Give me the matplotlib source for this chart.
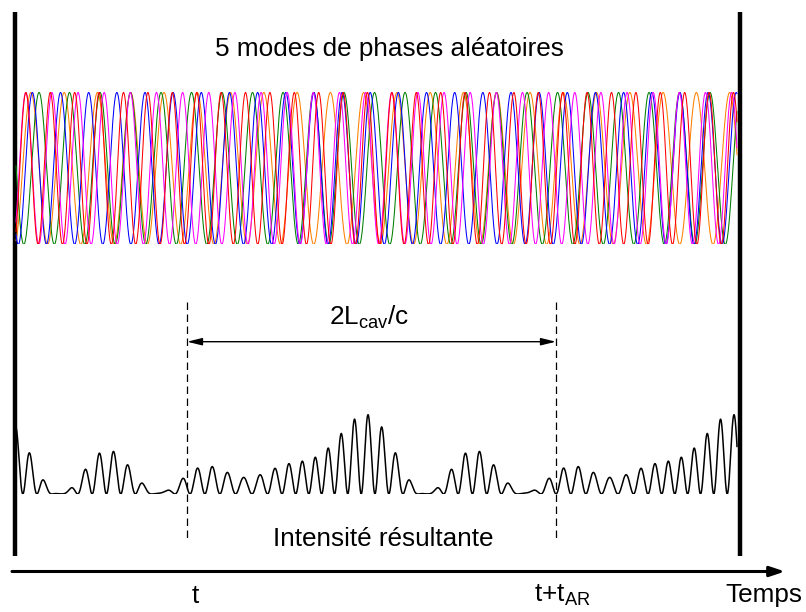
import numpy as np
import matplotlib
matplotlib.use("Agg")
import matplotlib.pyplot as plt

plt.rcParams['font.family'] = ['Liberation Sans', 'DejaVu Sans']
plt.rcParams['mathtext.fontset'] = 'custom'
plt.rcParams['mathtext.rm'] = 'Liberation Sans'
plt.rcParams['mathtext.default'] = 'regular'

# time in units of the cavity round trip 2L/c
mode_orders = [11, 12, 13, 14, 15]
mode_phases = [0.443, 4.524, 5.341, 0.089, 5.898]   # rad
mode_colors = ['#ff8000', '#008000', '#0000ff', '#ff00ff', '#ff0000']
t_start, t_end = 0.0437, 2.0137          # time window shown
t_marks = [0.511, 1.519]                 # t and t + t_AR
x_max = 806 / 366

t = np.linspace(t_start, t_end, 6000)
fields = [np.cos(2 * np.pi * n * t + p) for n, p in zip(mode_orders, mode_phases)]
intensity = np.sum(fields, axis=0) ** 2

fig = plt.figure(figsize=(8.06, 6.12), dpi=100)

# 5 modes
ax_m = fig.add_axes([0, 0.6005, 1, 0.2484])
for f, c in zip(fields, mode_colors):
    ax_m.plot(t, f, color=c, lw=0.75)
ax_m.set_xlim(0, x_max)
ax_m.set_ylim(-1, 1)
ax_m.axis('off')

# resulting intensity
ax_i = fig.add_axes([0, 0.1928, 1, 0.1634])
ax_i.plot(t, intensity, color='black', lw=1.1)
ax_i.set_xlim(0, x_max)
ax_i.set_ylim(0, 16.5)
ax_i.axis('off')

# frame, time axis and labels
ax = fig.add_axes([0, 0, 1, 1], zorder=-1)
ax.set_xlim(0, x_max)
ax.set_ylim(612, 0)
ax.axis('off')

ax.plot([14.5 / 366] * 2, [12, 556], color='black', lw=3.2, solid_capstyle='butt')
ax.plot([739.7 / 366] * 2, [12, 556], color='black', lw=3.2, solid_capstyle='butt')

for tm in t_marks:
    ax.plot([tm, tm], [302, 540], color='black', lw=0.9, linestyle=(0, (6, 3.6)))

ax.annotate('', xy=(t_marks[1], 341.7), xytext=(t_marks[0], 341.7),
            arrowprops=dict(arrowstyle='<|-|>,head_length=0.9,head_width=0.22',
                            color='black', lw=1.0, shrinkA=0, shrinkB=0))
ax.annotate('', xy=(785 / 366, 571.5), xytext=(12 / 366, 571.5),
            arrowprops=dict(arrowstyle='-|>,head_length=0.9,head_width=0.3',
                            color='black', lw=2.2, shrinkA=0, shrinkB=0))

fs = 18.8
ax.text(389.5 / 366, 56, '5 modes de phases aléatoires', fontsize=fs,
        ha='center', va='baseline')
ax.text(383.5 / 366, 546, 'Intensité résultante', fontsize=fs,
        ha='center', va='baseline')
ax.text(369 / 366, 325, '2L$_{cav}$/c', fontsize=fs, ha='center', va='baseline')
ax.text(195 / 366, 603, 't', fontsize=fs, ha='center', va='baseline')
ax.text(534 / 366, 602, 't+t$_{AR}$', fontsize=fs, ha='left', va='baseline')
ax.text(725.5 / 366, 602, 'Temps', fontsize=fs, ha='left', va='baseline')

fig.savefig('out.png', dpi=100)
